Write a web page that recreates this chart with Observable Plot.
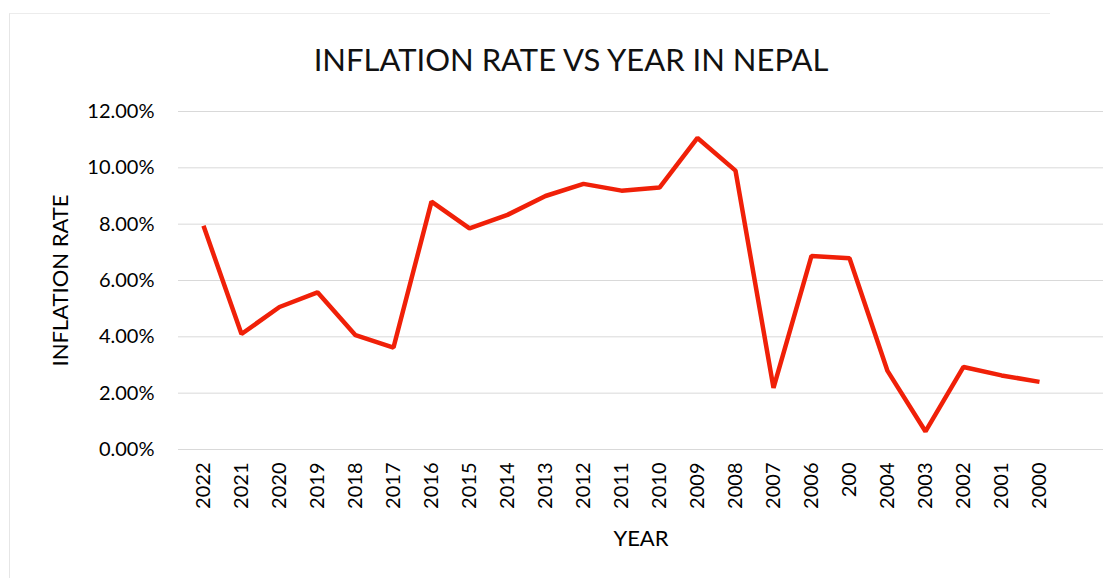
<!DOCTYPE html>
<html>
<head>
<meta charset="utf-8">
<script src="https://cdn.jsdelivr.net/npm/d3@7"></script>
<script src="https://cdn.jsdelivr.net/npm/@observablehq/plot@0.6"></script>
<style>
  html, body { margin: 0; padding: 0; background: #fff; }
  #wrap { position: relative; width: 1120px; height: 578px; overflow: hidden; font-family: Lato, "Open Sans", sans-serif; }
  #border { position: absolute; left: 9px; top: 13px; width: 1040px; height: 600px; border-left: 1px solid #e6e6e6; border-top: 1px solid #ececec; }
  #title { position: relative; height: 90px; text-align: center; font-size: 31px; line-height: 1; color: #111; box-sizing: border-box; }
  #title span { position: absolute; left: 0; right: 0; top: 44px; margin-left: 22px; }
  #chart { position: relative; }
</style>
</head>
<body>
<div id="wrap">
  <div id="border"></div>
  <div id="title"><span>INFLATION RATE VS YEAR IN NEPAL</span></div>
  <div id="chart"></div>
</div>
<script>
const years = ["2022","2021","2020","2019","2018","2017","2016","2015","2014","2013","2012","2011","2010","2009","2008","2007","2006","200","2004","2003","2002","2001","2000"];
const rates = [7.94, 4.1, 5.06, 5.58, 4.06, 3.62, 8.8, 7.85, 8.33, 9.0, 9.43, 9.19, 9.3, 11.06, 9.9, 2.19, 6.87, 6.79, 2.79, 0.64, 2.93, 2.63, 2.4];
const yTicks = [0, 2, 4, 6, 8, 10, 12];

const data = years.map((y, i) => ({year: y, rate: rates[i]}));

const chart = Plot.plot({
  width: 1120,
  height: 488,
  marginTop: 21,
  marginBottom: 129,
  marginLeft: 178,
  marginRight: 17,
  style: {fontFamily: "Lato, 'Open Sans', sans-serif", color: "#000", background: "transparent"},
  x: {type: "point", domain: years, range: [197, 1045], padding: 0},
  y: {domain: [0, 12]},
  marks: [
    Plot.gridY(yTicks, {stroke: "#d9d9d9", strokeOpacity: 1, strokeWidth: 1}),
    Plot.axisY(yTicks, {
      tickSize: 0, tickPadding: 24, fontSize: 20,
      tickFormat: d => d.toFixed(2) + "%",
      label: "INFLATION RATE", labelAnchor: "center", labelArrow: "none", labelOffset: 126
    }),
    Plot.axisX({
      tickSize: 0, tickRotate: -90, tickPadding: 13, fontSize: 20,
      label: "YEAR", labelAnchor: "center", labelArrow: "none", labelOffset: 96
    }),
    Plot.line(data, {x: "year", y: "rate", stroke: "#f02008", strokeWidth: 4.5, strokeLinejoin: "miter", strokeLinecap: "butt"})
  ]
});
chart.querySelectorAll("g[aria-label='y-axis label'] text, g[aria-label='x-axis label'] text").forEach(t => t.setAttribute("font-size", "22"));
document.getElementById("chart").appendChild(chart);
</script>
</body>
</html>
